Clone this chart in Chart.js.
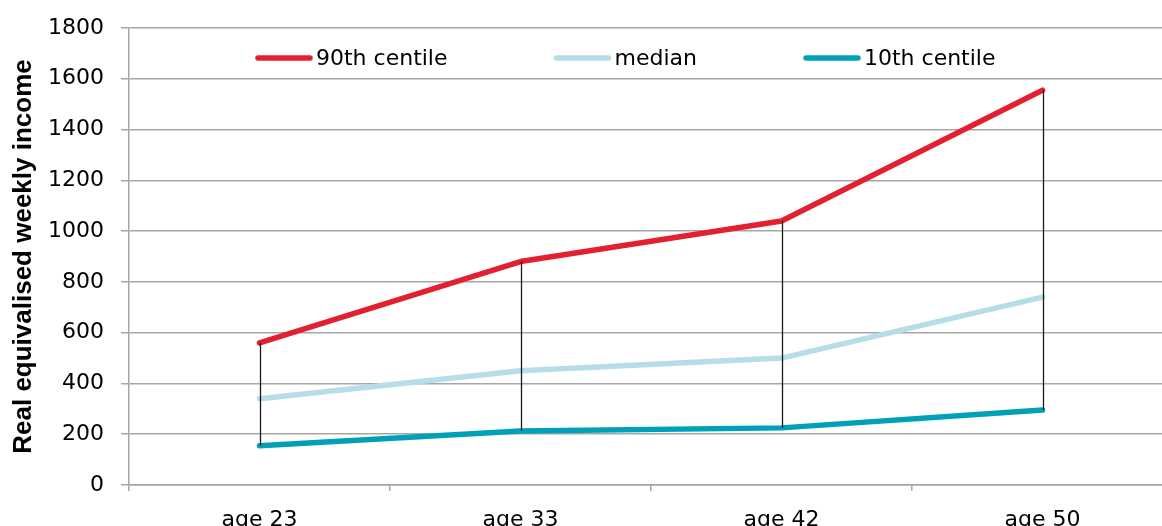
<!DOCTYPE html>
<html>
<head>
<meta charset="utf-8">
<script src="https://cdn.jsdelivr.net/npm/chart.js@4.4.1/dist/chart.umd.min.js"></script>
<style>
  html, body { margin: 0; padding: 0; background: #fff; overflow: hidden; }
  #wrap { width: 1180px; height: 526px; }
</style>
</head>
<body>
<div id="wrap"><canvas id="c" width="1180" height="526"></canvas></div>
<script>
// Income by age of cohort member (real equivalised weekly income)
const ages = ['age 23', 'age 33', 'age 42', 'age 50'];
const p90 = [560, 880, 1040, 1555];
const median = [340, 450, 500, 740];
const p10 = [155, 213, 225, 295];
const yTicks = [0, 200, 400, 600, 800, 1000, 1200, 1400, 1600, 1800];

const seriesNames = ['90th centile', 'median', '10th centile'];
const seriesColors = ['#e3202f', '#b6dee8', '#00a1b8'];

const tickFont = { family: '"DejaVu Sans", sans-serif', size: 22, lineHeight: 1 };
const gridColor = '#a6a6a6';

// vertical high-low connectors between the 10th and 90th centiles
const hiLoLines = {
  id: 'hiLoLines',
  afterDatasetsDraw(chart) {
    const { ctx, scales: { x, y } } = chart;
    ctx.save();
    ctx.strokeStyle = '#1a1a1a';
    ctx.lineWidth = 1.3;
    ages.forEach((_, i) => {
      const px = Math.round(x.getPixelForValue(i)) + 0.5;
      ctx.beginPath();
      ctx.moveTo(px, y.getPixelForValue(p90[i]));
      ctx.lineTo(px, y.getPixelForValue(p10[i]));
      ctx.stroke();
    });
    ctx.restore();
  }
};

// legend laid out in one row across the top of the plot area
const inlineLegend = {
  id: 'inlineLegend',
  afterDraw(chart) {
    const { ctx, chartArea } = chart;
    const yMid = chartArea.top + 30;
    const lineLen = 56, lineGap = 4, itemGap = 107;
    let cx = chartArea.left + 127;
    ctx.save();
    ctx.font = '22px "DejaVu Sans", sans-serif';
    ctx.textBaseline = 'middle';
    ctx.textAlign = 'left';
    chart.data.datasets.forEach(ds => {
      ctx.strokeStyle = ds.borderColor;
      ctx.lineWidth = 5.5;
      ctx.lineCap = 'round';
      ctx.beginPath();
      ctx.moveTo(cx + 2, yMid);
      ctx.lineTo(cx + lineLen - 2, yMid);
      ctx.stroke();
      ctx.fillStyle = '#000';
      const tx = cx + lineLen + lineGap;
      ctx.fillText(ds.label, tx, yMid + 1);
      cx = tx + ctx.measureText(ds.label).width + itemGap;
    });
    ctx.restore();
  }
};

const makeSet = (label, data, color) => ({
  label, data,
  borderColor: color,
  backgroundColor: color,
  borderWidth: 5.5,
  borderCapStyle: 'round',
  borderJoinStyle: 'round',
  pointRadius: 0,
  tension: 0,
  fill: false
});

new Chart(document.getElementById('c'), {
  type: 'line',
  data: {
    labels: ages,
    datasets: [
      makeSet(seriesNames[0], p90, seriesColors[0]),
      makeSet(seriesNames[1], median, seriesColors[1]),
      makeSet(seriesNames[2], p10, seriesColors[2])
    ]
  },
  options: {
    responsive: false,
    animation: false,
    devicePixelRatio: 1,
    layout: { padding: { left: 0, right: 7, top: 26, bottom: 0 } },
    plugins: { legend: { display: false }, tooltip: { enabled: false } },
    scales: {
      x: {
        offset: true,
        grid: {
          offset: true,
          drawOnChartArea: false,
          drawTicks: true,
          tickLength: 6,
          color: gridColor,
          lineWidth: 1.5
        },
        border: { display: true, color: gridColor, width: 1.5 },
        ticks: { font: tickFont, color: '#000', padding: 18, maxRotation: 0 },
        afterFit(scale) { scale.height = 41; }
      },
      y: {
        min: 0,
        max: 1800,
        afterBuildTicks(scale) { scale.ticks = yTicks.map(v => ({ value: v })); },
        grid: { color: gridColor, lineWidth: 1.5, tickLength: 8 },
        border: { display: true, color: gridColor, width: 1.5 },
        ticks: {
          font: tickFont,
          color: '#000',
          padding: 17,
          callback: v => String(v)
        },
        title: {
          display: true,
          text: 'Real equivalised weekly income',
          font: { family: '"Liberation Sans", Arial, sans-serif', size: 26, weight: 'bold' },
          color: '#000',
          padding: { top: 8, bottom: 0 }
        },
        afterFit(scale) { scale.width = 129; }
      }
    }
  },
  plugins: [hiLoLines, inlineLegend]
});
</script>
</body>
</html>
